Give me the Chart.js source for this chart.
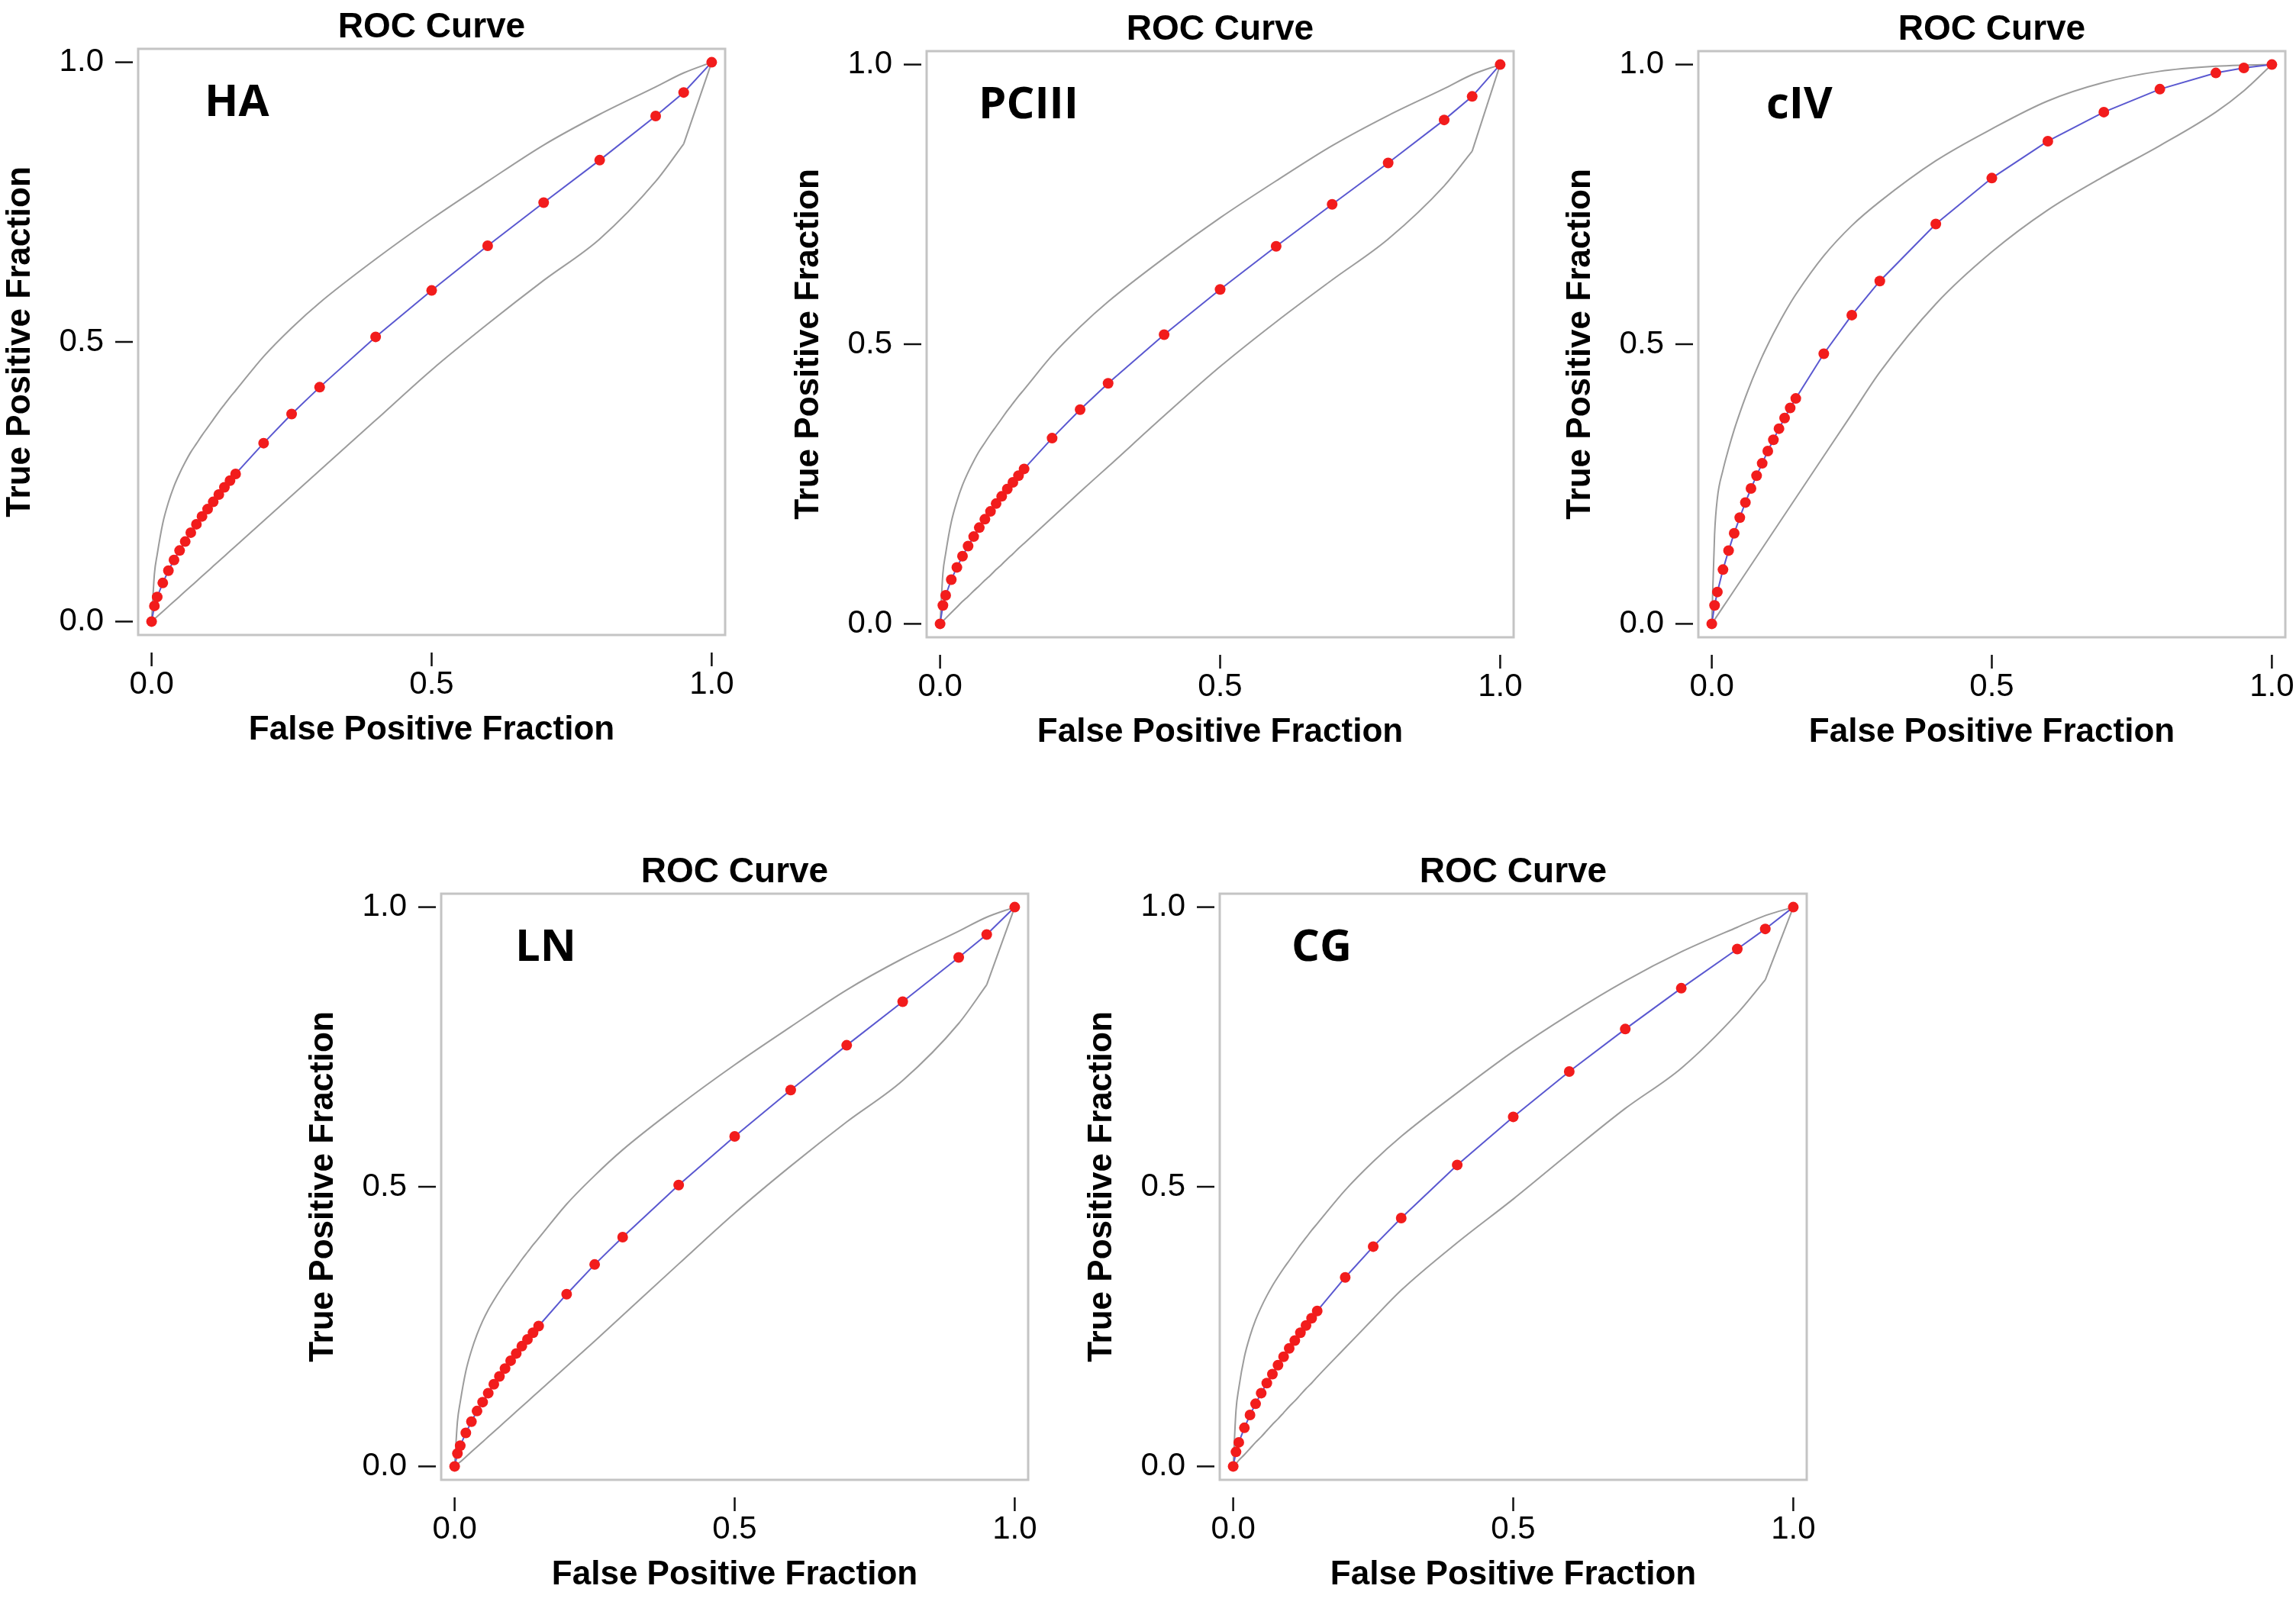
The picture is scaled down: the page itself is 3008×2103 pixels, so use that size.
<!DOCTYPE html>
<html>
<head>
<meta charset="utf-8">
<script src="https://cdn.jsdelivr.net/npm/chart.js@4.4.0/dist/chart.umd.min.js"></script>
<style>
html,body{margin:0;padding:0;background:#ffffff;width:3008px;height:2103px;overflow:hidden;position:relative}
canvas{position:absolute;display:block}
</style>
</head>
<body>
<script>
// ---------- DATA ----------
const fpr = [0, 0.005, 0.01, 0.02, 0.03, 0.04, 0.05, 0.06, 0.07, 0.08, 0.09, 0.10, 0.11, 0.12, 0.13, 0.14, 0.15, 0.2, 0.25, 0.3, 0.4, 0.5, 0.6, 0.7, 0.8, 0.9, 0.95, 1.0];

const tickValues = [0, 0.5, 1];
const tickLabels = ['0.0', '0.5', '1.0'];
const chartTitle = 'ROC Curve';
const xAxisTitle = 'False Positive Fraction';
const yAxisTitle = 'True Positive Fraction';
const panelNames = ['HA', 'PCIII', 'cIV', 'LN', 'CG'];

const tprHA   = [0, 0.028, 0.044, 0.069, 0.091, 0.110, 0.127, 0.143, 0.159, 0.174, 0.188, 0.201, 0.214, 0.227, 0.240, 0.252, 0.264, 0.319, 0.371, 0.419, 0.509, 0.592, 0.672, 0.749, 0.825, 0.904, 0.946, 1];
const upperHA = [0, 0.085, 0.120, 0.176, 0.213, 0.242, 0.265, 0.285, 0.303, 0.318, 0.333, 0.347, 0.361, 0.375, 0.388, 0.401, 0.413, 0.474, 0.525, 0.570, 0.648, 0.720, 0.787, 0.852, 0.907, 0.956, 0.981, 1];
const lowerHA = [0, 0.0045, 0.009, 0.018, 0.027, 0.036, 0.045, 0.054, 0.063, 0.072, 0.081, 0.090, 0.099, 0.108, 0.117, 0.126, 0.135, 0.180, 0.225, 0.270, 0.360, 0.450, 0.532, 0.610, 0.684, 0.787, 0.854, 1];

const tprPCIII   = [0, 0.033, 0.051, 0.079, 0.101, 0.121, 0.139, 0.156, 0.172, 0.187, 0.201, 0.215, 0.228, 0.241, 0.253, 0.265, 0.277, 0.332, 0.383, 0.430, 0.517, 0.598, 0.675, 0.750, 0.824, 0.901, 0.943, 1];
const upperPCIII = [0, 0.090, 0.126, 0.182, 0.219, 0.248, 0.271, 0.291, 0.309, 0.324, 0.339, 0.353, 0.367, 0.381, 0.394, 0.407, 0.419, 0.480, 0.531, 0.576, 0.654, 0.726, 0.792, 0.855, 0.909, 0.957, 0.982, 1];
const lowerPCIII = [0, 0.005, 0.010, 0.020, 0.030, 0.040, 0.049, 0.059, 0.068, 0.078, 0.087, 0.097, 0.106, 0.116, 0.125, 0.135, 0.144, 0.190, 0.236, 0.281, 0.372, 0.460, 0.540, 0.615, 0.688, 0.783, 0.845, 1];

const tprCIV   = [0, 0.033, 0.057, 0.097, 0.131, 0.162, 0.190, 0.217, 0.242, 0.265, 0.287, 0.309, 0.329, 0.349, 0.368, 0.386, 0.403, 0.483, 0.552, 0.613, 0.715, 0.797, 0.863, 0.915, 0.956, 0.985, 0.994, 1];
const upperCIV = [0, 0.160, 0.225, 0.275, 0.313, 0.347, 0.377, 0.405, 0.431, 0.455, 0.478, 0.499, 0.519, 0.538, 0.556, 0.573, 0.589, 0.658, 0.712, 0.755, 0.828, 0.885, 0.935, 0.968, 0.988, 0.997, 0.999, 1];
const lowerCIV = [0, 0.0075, 0.015, 0.030, 0.045, 0.060, 0.075, 0.090, 0.105, 0.120, 0.135, 0.150, 0.165, 0.180, 0.195, 0.210, 0.225, 0.300, 0.375, 0.450, 0.572, 0.665, 0.740, 0.800, 0.855, 0.915, 0.953, 1];

const tprLN   = [0, 0.023, 0.037, 0.060, 0.080, 0.099, 0.115, 0.131, 0.147, 0.161, 0.175, 0.189, 0.202, 0.215, 0.227, 0.239, 0.251, 0.308, 0.361, 0.410, 0.503, 0.590, 0.673, 0.753, 0.831, 0.910, 0.951, 1];
const upperLN = [0, 0.080, 0.115, 0.170, 0.207, 0.236, 0.260, 0.280, 0.297, 0.313, 0.328, 0.342, 0.356, 0.370, 0.383, 0.396, 0.408, 0.469, 0.520, 0.566, 0.645, 0.718, 0.786, 0.852, 0.908, 0.957, 0.982, 1];
const lowerLN = [0, 0.004, 0.008, 0.017, 0.026, 0.035, 0.044, 0.053, 0.062, 0.071, 0.080, 0.089, 0.098, 0.107, 0.116, 0.125, 0.134, 0.179, 0.224, 0.270, 0.362, 0.453, 0.537, 0.616, 0.690, 0.792, 0.861, 1];

const tprCG   = [0, 0.026, 0.043, 0.069, 0.092, 0.112, 0.131, 0.149, 0.165, 0.181, 0.196, 0.211, 0.225, 0.239, 0.252, 0.265, 0.278, 0.338, 0.393, 0.444, 0.539, 0.625, 0.706, 0.782, 0.855, 0.925, 0.961, 1];
const upperCG = [0, 0.100, 0.140, 0.196, 0.233, 0.262, 0.285, 0.305, 0.323, 0.339, 0.354, 0.368, 0.382, 0.396, 0.409, 0.422, 0.434, 0.494, 0.545, 0.590, 0.668, 0.742, 0.808, 0.868, 0.920, 0.964, 0.985, 1];
const lowerCG = [0, 0.005, 0.011, 0.021, 0.032, 0.043, 0.053, 0.064, 0.075, 0.085, 0.096, 0.107, 0.117, 0.128, 0.139, 0.149, 0.160, 0.212, 0.264, 0.315, 0.400, 0.478, 0.560, 0.640, 0.712, 0.810, 0.870, 1];

// ---------- LAYOUT / STYLE (positions only) ----------
const FRAME_W = 769, FRAME_H = 768;
const LEFT_SPACE = 183, TOP_SPACE = 66, RIGHT_SPACE = 30, BOTTOM_SPACE = 160;
const panelLayout = [
  {L: 180.5,  T: 64,     labelDx: 87, lowerKink: true},
  {L: 1213.6, T: 67,     labelDx: 68, lowerKink: true},
  {L: 2225,   T: 67,     labelDx: 89, lowerKink: false},
  {L: 577.7,  T: 1171.4, labelDx: 97, lowerKink: true},
  {L: 1597.7, T: 1171.4, labelDx: 94, lowerKink: true}
];
const panelSeries = [
  [tprHA, upperHA, lowerHA],
  [tprPCIII, upperPCIII, lowerPCIII],
  [tprCIV, upperCIV, lowerCIV],
  [tprLN, upperLN, lowerLN],
  [tprCG, upperCG, lowerCG]
];

const SANS = "'Liberation Sans', Arial, Helvetica, sans-serif";
const toPoints = arr => fpr.map((x, i) => ({x: x, y: arr[i]}));

const framePlugin = {
  id: 'frameTicks',
  beforeDatasetsDraw(chart) {
    const {ctx, chartArea: a} = chart;
    ctx.save();
    ctx.strokeStyle = '#c4c4c4';
    ctx.lineWidth = 3;
    ctx.strokeRect(a.left, a.top, a.right - a.left, a.bottom - a.top);
    ctx.restore();
  },
  afterDraw(chart, args, opts) {
    const {ctx, chartArea: a, scales} = chart;
    ctx.save();
    ctx.strokeStyle = '#111';
    ctx.lineWidth = 2.5;
    tickValues.forEach(v => {
      const px = scales.x.getPixelForValue(v);
      ctx.beginPath(); ctx.moveTo(px, a.bottom + 23); ctx.lineTo(px, a.bottom + 41); ctx.stroke();
      const py = scales.y.getPixelForValue(v);
      ctx.beginPath(); ctx.moveTo(a.left - 30, py); ctx.lineTo(a.left - 7, py); ctx.stroke();
    });
    ctx.fillStyle = '#000';
    ctx.font = "bold 58px 'Open Sans', 'Liberation Sans', sans-serif";
    ctx.textAlign = 'left';
    ctx.textBaseline = 'alphabetic';
    ctx.fillText(opts.text, a.left + opts.dx, a.top + 88);
    ctx.restore();
  }
};

panelNames.forEach((name, i) => {
  const pos = panelLayout[i];
  const [roc, up, lo] = panelSeries[i];
  const canvas = document.createElement('canvas');
  const w = LEFT_SPACE + FRAME_W + RIGHT_SPACE;
  const h = TOP_SPACE + FRAME_H + BOTTOM_SPACE;
  canvas.width = w; canvas.height = h;
  canvas.style.width = w + 'px'; canvas.style.height = h + 'px';
  canvas.style.left = Math.round(pos.L - LEFT_SPACE) + 'px';
  canvas.style.top = Math.round(pos.T - TOP_SPACE) + 'px';
  document.body.appendChild(canvas);

  const axisCommon = {
    type: 'linear',
    min: -0.024,
    max: 1.024,
    grid: {display: false, drawTicks: false},
    border: {display: false},
    afterBuildTicks: s => { s.ticks = tickValues.map(v => ({value: v})); },
    ticks: {
      color: '#000',
      font: {family: SANS, size: 42, weight: 'normal'},
      callback: (v) => tickLabels[tickValues.indexOf(v)] ?? '',
      autoSkip: false,
      maxRotation: 0
    }
  };

  const bandStyle = {
    borderColor: '#9c9c9c',
    borderWidth: 2,
    pointRadius: 0,
    cubicInterpolationMode: 'monotone'
  };

  const lowerPts = toPoints(lo);
  const n = lowerPts.length;
  const lowerSets = pos.lowerKink
    ? [Object.assign({label: 'lower', data: lowerPts.slice(0, n - 1)}, bandStyle),
       Object.assign({label: 'lower end', data: lowerPts.slice(n - 2)}, bandStyle, {cubicInterpolationMode: 'default', tension: 0})]
    : [Object.assign({label: 'lower', data: lowerPts}, bandStyle)];

  new Chart(canvas, {
    type: 'line',
    data: {
      datasets: [
        {
          label: name,
          data: toPoints(roc),
          borderColor: '#5a58d0',
          borderWidth: 2,
          pointRadius: 7,
          pointBackgroundColor: '#f21c1c',
          pointBorderWidth: 0,
          tension: 0
        },
        Object.assign({label: 'upper', data: toPoints(up)}, bandStyle)
      ].concat(lowerSets)
    },
    options: {
      responsive: false,
      animation: false,
      devicePixelRatio: 1,
      layout: {padding: {top: 0, left: 0, right: RIGHT_SPACE, bottom: 0}},
      plugins: {
        legend: {display: false},
        tooltip: {enabled: false},
        title: {
          display: true,
          text: chartTitle,
          fullSize: false,
          color: '#000',
          font: {family: SANS, size: 46, weight: 'bold', lineHeight: 1.2},
          padding: {top: 10.4, bottom: 0.4}
        },
        frameTicks: {text: name, dx: pos.labelDx}
      },
      scales: {
        x: Object.assign({}, axisCommon, {
          position: 'bottom',
          ticks: Object.assign({}, axisCommon.ticks, {padding: 40}),
          title: {
            display: true, text: xAxisTitle, color: '#000',
            font: {family: SANS, size: 44, weight: 'bold', lineHeight: 1.2},
            padding: {top: 0, bottom: 9}
          },
          afterFit: s => { s.height = BOTTOM_SPACE; s.paddingLeft = 0; s.paddingRight = 0; }
        }),
        y: Object.assign({}, axisCommon, {
          position: 'left',
          ticks: Object.assign({}, axisCommon.ticks, {padding: 45}),
          title: {
            display: true, text: yAxisTitle, color: '#000',
            font: {family: SANS, size: 44, weight: 'bold', lineHeight: 1.2},
            padding: {top: 2, bottom: 0}
          },
          afterFit: s => { s.width = LEFT_SPACE; s.paddingTop = 0; s.paddingBottom = 0; }
        })
      }
    },
    plugins: [framePlugin]
  });
});
</script>
</body>
</html>
